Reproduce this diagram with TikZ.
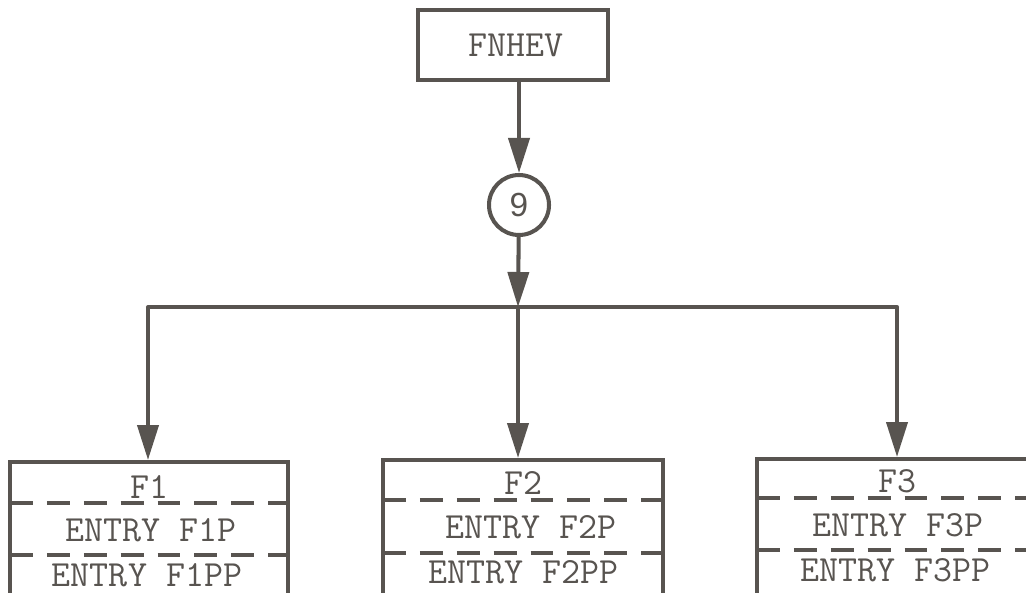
\documentclass[tikz,border=0pt]{standalone}
\usepackage{fontspec}
\newfontfamily\numfont{Liberation Sans}
\usetikzlibrary{positioning,arrows.meta}
\definecolor{ink}{RGB}{88,84,80}

\tikzset{
  box/.style={draw=ink, line width=2.3pt, rectangle, inner sep=0pt},
  txt/.style={text=ink, font=\fontsize{21}{23}\selectfont\ttfamily, inner sep=0pt},
  sep/.style={draw=ink, line width=2.3pt, dash pattern=on 13pt off 8pt},
  arr/.style={draw=ink, line width=2.3pt, -{Triangle[length=0.7cm, width=0.42cm]}},
}

\begin{document}
\begin{tikzpicture}[x=0.02cm, y=-0.02cm]
        \useasboundingbox (0,0) rectangle (1026,592);
        \clip (0,0) rectangle (1026,592);
        % top of the tree
        \node[box, minimum width=3.8cm, minimum height=1.4cm] (fnhev) at (513,45) {};
        \node[txt] (fnhevt) at (516,45) {FNHEV};
        \node[box, circle, minimum size=1.2cm, text=ink, font=\fontsize{19}{21}\selectfont\numfont] (nine) at (519,205) {9};
        \coordinate (split) at (518,307);
        \coordinate (left) at (148,307);
        \coordinate (right) at (897,307);
        % the three entry blocks
        \node[box, minimum width=5.56cm, minimum height=3.2cm] (f1) at (149,542) {};
        \node[box, minimum width=5.6cm, minimum height=3.2cm] (f2) at (523,540) {};
        \node[box, minimum width=5.6cm, minimum height=3.2cm] (f3) at (897,539) {};
        \draw[sep] (10,503) -- (288,503);
        \draw[sep] (10,555) -- (288,555);
        \draw[sep] (383,500) -- (663,500);
        \draw[sep] (383,553) -- (663,553);
        \draw[sep] (757,498) -- (1037,498);
        \draw[sep] (757,550) -- (1037,550);
        \node[txt] (f1a) at (149,487) {F1};
        \node[txt] (f1b) at (151,530) {ENTRY F1P};
        \node[txt] (f1c) at (147,575) {ENTRY F1PP};
        \node[txt] (f2a) at (523,483) {F2};
        \node[txt] (f2b) at (531,527) {ENTRY F2P};
        \node[txt] (f2c) at (523,572) {ENTRY F2PP};
        \node[txt] (f3a) at (897,481) {F3};
        \node[txt] (f3b) at (898,525) {ENTRY F3P};
        \node[txt] (f3c) at (895,570) {ENTRY F3PP};
        % connectors
        \draw[arr] (fnhev.south -| nine) -- (nine);
        \draw[arr] (nine) -- (split);
        \draw[draw=ink, line width=2.3pt, line cap=round] (left) -- (right);
        \draw[arr] (left) -- (left |- f1.north);
        \draw[arr] (split) -- (split |- f2.north);
        \draw[arr] (right) -- (right |- f3.north);
    \end{tikzpicture}
\end{document}
